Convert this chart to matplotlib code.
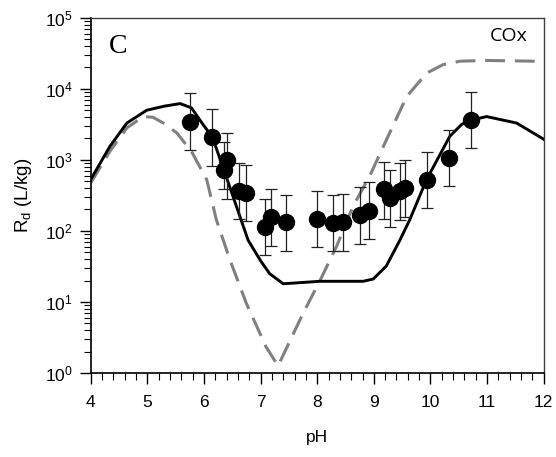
import matplotlib
matplotlib.use("Agg")
import matplotlib.pyplot as plt
from matplotlib.ticker import LogLocator, MultipleLocator, LogFormatterMathtext, NullFormatter

plt.rcParams['font.family'] = ['Liberation Sans', 'DejaVu Sans']
plt.rcParams['mathtext.default'] = 'regular'

# model curve (solid black)
model_ph = [4.0, 4.34, 4.64, 4.99, 5.3, 5.58, 5.78, 5.99, 6.15, 6.40, 6.78, 7.0, 7.16, 7.40,
            8.05, 8.81, 8.99, 9.22, 9.46, 9.63, 9.93, 10.34, 10.55, 10.72, 10.99, 11.52, 12.0]
model_rd = [525, 1550, 3300, 5000, 5700, 6200, 5400, 3100, 2090, 560, 74, 38, 25, 18,
            19.5, 19.5, 21, 32, 74, 141, 525, 2140, 3160, 3630, 4070, 3300, 1950]

# second model curve (grey dashed)
alt_ph = [4.0, 4.34, 4.64, 4.93, 5.1, 5.28, 5.52, 5.78, 6.05, 6.22, 6.46, 6.75, 7.1, 7.31,
          7.75, 8.05, 8.34, 8.63, 8.93, 9.22, 9.58, 9.93, 10.22, 10.52, 10.99, 11.84]
alt_rd = [470, 1320, 2820, 4070, 3980, 3310, 2400, 1320, 525, 143, 39, 9.5, 2.3, 1.26,
          6.9, 20, 60, 220, 600, 1900, 7800, 16600, 21900, 24500, 25100, 24500]

# measured data
data_ph = [5.76, 6.15, 6.41, 6.36, 6.62, 6.75, 7.08, 7.19, 7.45, 7.99, 8.28, 8.45, 8.75, 8.92,
           9.18, 9.28, 9.47, 9.55, 9.93, 10.33, 10.72]
data_rd = [3430, 2090, 1000, 720, 370, 345, 115, 159, 133, 148, 131, 135, 168, 193,
           387, 289, 370, 407, 522, 1070, 3660]
data_hi = [8700, 5180, 2380, 1780, 910, 850, 280, 390, 320, 370, 320, 330, 410, 490,
           930, 720, 890, 1000, 1290, 2630, 9100]
data_lo = [1380, 820, 285, 390, 146, 137, 46, 62, 52, 60, 52, 52, 66, 77,
           148, 115, 143, 158, 209, 427, 1460]

fig = plt.figure(figsize=(5.56, 4.57), dpi=100)
ax = fig.add_axes([0.163, 0.184, 0.815, 0.777])

ax.plot(alt_ph, alt_rd, color='#808080', lw=2.2, dashes=(6.5, 3.2), zorder=2)
ax.plot(model_ph, model_rd, color='black', lw=2.1, zorder=3)

yerr = [[r - lo for r, lo in zip(data_rd, data_lo)],
        [hi - r for r, hi in zip(data_rd, data_hi)]]
ax.errorbar(data_ph, data_rd, yerr=yerr, fmt='o', color='black', ms=11.5,
            ecolor='#222222', elinewidth=0.9, capsize=4, capthick=0.9, zorder=4)

ax.set_yscale('log')
ax.set_xlim(4, 12)
ax.set_ylim(1, 1e5)

ax.xaxis.set_major_locator(MultipleLocator(1))
ax.xaxis.set_minor_locator(MultipleLocator(0.2))
ax.yaxis.set_major_locator(LogLocator(base=10, numticks=10))
ax.yaxis.set_minor_locator(LogLocator(base=10, subs=range(2, 10), numticks=10))
ax.yaxis.set_major_formatter(LogFormatterMathtext())
ax.yaxis.set_minor_formatter(NullFormatter())

ax.tick_params(which='major', direction='out', length=8, width=1, labelsize=12.5, pad=5)
ax.tick_params(which='minor', direction='out', length=5, width=0.8)
ax.tick_params(axis='x', which='major', pad=8)
ax.tick_params(top=False, right=False, which='both')

for s in ['left', 'bottom']:
    ax.spines[s].set_linewidth(1.2)
    ax.spines[s].set_color('black')
for s in ['top', 'right']:
    ax.spines[s].set_linewidth(1.0)
    ax.spines[s].set_color('#404040')

ax.set_xlabel('pH', fontsize=12.5, labelpad=14)
ax.set_ylabel('R$_d$ (L/kg)', fontsize=13.5, labelpad=8)

ax.text(0.04, 0.955, 'C', transform=ax.transAxes, fontsize=20,
        family=['Liberation Serif'], va='top', ha='left')
ax.text(0.965, 0.975, 'COx', transform=ax.transAxes, fontsize=14,
        family=['Open Sans'], va='top', ha='right')

fig.savefig('out.png', dpi=100)
